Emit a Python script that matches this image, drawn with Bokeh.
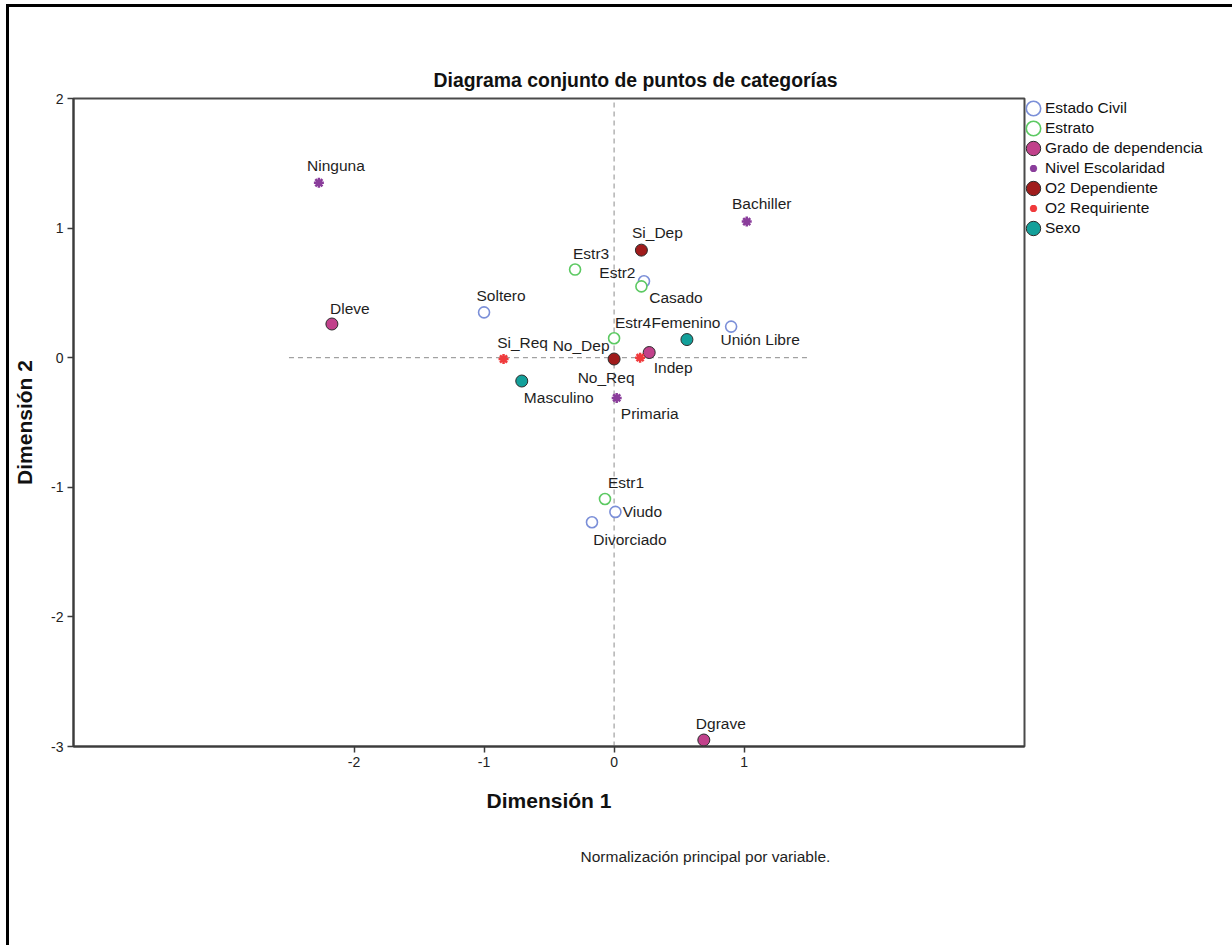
from bokeh.plotting import figure
from bokeh.models import (ColumnDataSource, Legend, LegendItem, FixedTicker,
                          Title, Range1d, PrintfTickFormatter)
from bokeh.core.properties import value
from bokeh.embed import file_html
from bokeh.resources import INLINE

FONT = "Liberation Sans"

# Category quantifications (Dimensión 1, Dimensión 2) for each variable
estado_civil_cats = ["Soltero", "Casado", "Unión Libre", "Viudo", "Divorciado"]
estado_civil_d1 = [-1.00, 0.23, 0.90, 0.01, -0.17]
estado_civil_d2 = [0.35, 0.59, 0.24, -1.19, -1.27]

estrato_cats = ["Estr1", "Estr2", "Estr3", "Estr4"]
estrato_d1 = [-0.07, 0.21, -0.30, 0.00]
estrato_d2 = [-1.09, 0.55, 0.68, 0.15]

grado_cats = ["Dleve", "Dgrave", "Indep"]
grado_d1 = [-2.17, 0.69, 0.27]
grado_d2 = [0.26, -2.95, 0.04]

nivel_cats = ["Ninguna", "Primaria", "Bachiller"]
nivel_d1 = [-2.27, 0.02, 1.02]
nivel_d2 = [1.35, -0.31, 1.05]

o2dep_cats = ["Si_Dep", "No_Dep"]
o2dep_d1 = [0.21, 0.00]
o2dep_d2 = [0.83, -0.01]

o2req_cats = ["Si_Req", "No_Req"]
o2req_d1 = [-0.85, 0.20]
o2req_d2 = [-0.01, 0.00]

sexo_cats = ["Masculino", "Femenino"]
sexo_d1 = [-0.71, 0.56]
sexo_d2 = [-0.18, 0.14]

dim1_ticks = [-2, -1, 0, 1]
dim2_ticks = [2, 1, 0, -1, -2, -3]

# Pixel placement of each category label relative to its point (right, down)
label_offsets = {
    "Ninguna": (17, -17), "Bachiller": (15, -18), "Si_Dep": (16, -18),
    "Estr3": (16, -16), "Estr2": (-24, -14), "Casado": (32, 16),
    "Soltero": (17, -17), "Estr4": (19, -16), "Femenino": (-1, -17),
    "Unión Libre": (29, 13), "Si_Req": (19, -16), "No_Dep": (-33, -13),
    "No_Req": (-34, 20), "Indep": (24, 15), "Masculino": (37, 16),
    "Primaria": (33, 16), "Dleve": (18, -16), "Estr1": (21, -16),
    "Viudo": (27, 0), "Divorciado": (38, 17), "Dgrave": (17, -17),
}

series = [
    ("Estado Civil", estado_civil_cats, estado_civil_d1, estado_civil_d2, "hollow", "#7b8fd8"),
    ("Estrato", estrato_cats, estrato_d1, estrato_d2, "hollow", "#5cc962"),
    ("Grado de dependencia", grado_cats, grado_d1, grado_d2, "filled", "#c1418b"),
    ("Nivel Escolaridad", nivel_cats, nivel_d1, nivel_d2, "star", "#8a3d9b"),
    ("O2 Dependiente", o2dep_cats, o2dep_d1, o2dep_d2, "filled", "#a01c1c"),
    ("O2 Requiriente", o2req_cats, o2req_d1, o2req_d2, "star", "#f03a3c"),
    ("Sexo", sexo_cats, sexo_d1, sexo_d2, "filled", "#13a09a"),
]

FRAME_L, FRAME_R, FRAME_T, FRAME_B = 73, 1024, 98, 746
W, H = 1232, 945

p = figure(width=W, height=H,
           frame_width=FRAME_R - FRAME_L, frame_height=FRAME_B - FRAME_T,
           x_range=Range1d(-4.157, 3.156), y_range=Range1d(-3, 2),
           output_backend="svg", toolbar_location=None,
           min_border_left=FRAME_L, min_border_right=W - FRAME_R,
           min_border_top=FRAME_T, min_border_bottom=H - FRAME_B)

# Page frame: a black rule along the left and top edges of the page
p.styles = {"box-shadow": "inset 6px 4px 0 0 white, inset 9px 7px 0 0 black"}
p.border_fill_color = None
p.background_fill_color = "white"
p.outline_line_color = "#4a4a4a"
p.outline_line_width = 2
p.xgrid.visible = False
p.ygrid.visible = False

p.title.text = "Diagrama conjunto de puntos de categorías"
p.title.text_font = FONT
p.title.text_font_size = "19.4px"
p.title.text_font_style = "bold"
p.title.text_color = "#111111"
p.title.align = "left"
p.title.offset = 360
p.title.standoff = 16

for ax, ticks in ((p.xaxis[0], dim1_ticks), (p.yaxis[0], dim2_ticks)):
    ax.ticker = FixedTicker(ticks=ticks)
    ax.formatter = PrintfTickFormatter(format="%d")
    ax.axis_line_color = "#3c3c3c"
    ax.axis_line_width = 2
    ax.major_tick_line_color = "#3c3c3c"
    ax.major_tick_line_width = 1.5
    ax.major_tick_out = 6
    ax.major_tick_in = 0
    ax.minor_tick_line_color = None
    ax.major_label_text_font = FONT
    ax.major_label_text_font_size = "14px"
    ax.major_label_text_color = "#222222"
    ax.major_label_standoff = 4
    ax.axis_label_text_font = FONT
    ax.axis_label_text_font_size = "21px"
    ax.axis_label_text_font_style = "bold"
    ax.axis_label_text_color = "#111111"

p.xaxis.axis_label = "Dimensión 1"
p.xaxis.axis_label_standoff = 19
p.yaxis.axis_label = "Dimensión 2"
p.yaxis.axis_label_standoff = 12

# Dashed reference lines through the origin
p.segment(x0=[0, -2.5], y0=[-3, 0], x1=[0, 1.5], y1=[2, 0],
          line_color="#8c8c8c", line_dash="5 4", line_width=1)

items = []
for name, cats, d1, d2, kind, color in series:
    src = ColumnDataSource(dict(
        x=d1, y=d2, name=cats,
        dx=[label_offsets[c][0] for c in cats],
        dy=[label_offsets[c][1] for c in cats],
    ))
    if kind == "hollow":
        r = p.ellipse("x", "y", width=11, height=11, source=src,
                      width_units="screen", height_units="screen",
                      fill_color="white", line_color=color, line_width=1.6)
    elif kind == "filled":
        r = p.ellipse("x", "y", width=12, height=12, source=src,
                      width_units="screen", height_units="screen",
                      fill_color=color, line_color="#2b2b2b", line_width=1)
    else:
        p.scatter("x", "y", source=src, marker="circle", size=6,
                  fill_color=color, line_color=None)
        r = p.scatter("x", "y", source=src, marker="asterisk", size=10,
                      line_color=color, line_width=2.5)
    p.text("x", "y", text="name", source=src, x_offset="dx", y_offset="dy",
           text_font=value(FONT), text_font_size="15.5px",
           text_align="center", text_baseline="middle", text_color="#1e1e1e")
    items.append(LegendItem(label=name, renderers=[r]))

legend = Legend(items=items, location="top_left", orientation="vertical",
                glyph_width=18, glyph_height=20, label_standoff=3,
                label_height=20, spacing=0, padding=0, margin=0,
                label_text_font=FONT, label_text_font_size="15.5px",
                label_text_color="#111111",
                border_line_color=None, background_fill_alpha=0)
p.add_layout(legend, "right")

note = Title(text="Normalización principal por variable.",
             text_font=FONT, text_font_size="15.5px",
             text_font_style="normal", text_color="#1e1e1e",
             align="left", offset=507, vertical_align="top", standoff=66)
p.add_layout(note, "below")

open("out.html", "w").write(file_html(p, INLINE))
